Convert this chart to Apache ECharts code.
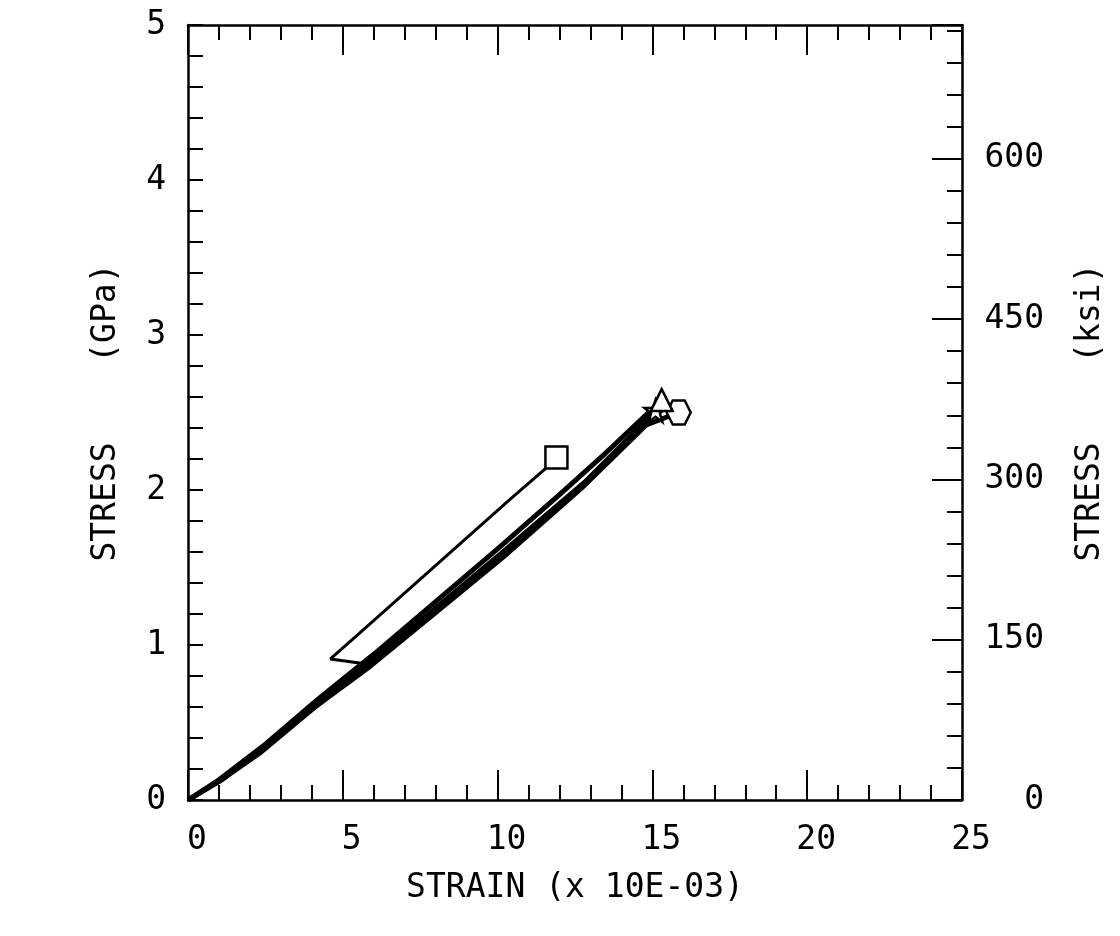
<!DOCTYPE html>
<html>
<head>
    <meta charset="UTF-8">
    <title>Stress - strain</title>
    <script src="https://cdn.jsdelivr.net/npm/echarts@6/dist/echarts.min.js"></script>
    <style>
        html, body { margin: 0; padding: 0; background: #fff; }
        #chart { width: 1120px; height: 936px; }
    </style>
</head>
<body>
<div id="chart"></div>
<script type="text/javascript">
    // strain (x 10E-03), stress (GPa)
    var curveTriangle = [[0, 0], [1, 0.13], [2.5, 0.36], [4.2, 0.65], [6, 0.94], [8, 1.28], [10, 1.62], [12, 1.97], [13.5, 2.24], [15.3, 2.58]];
    var curveStar = [[0, 0], [1.1, 0.13], [2.4, 0.33], [4.3, 0.63], [5.9, 0.89], [8, 1.24], [10.1, 1.59], [12.8, 2.05], [15.1, 2.51]];
    var curveHex = [[0, 0], [1, 0.12], [2.3, 0.3], [4.1, 0.6], [5.8, 0.85], [8, 1.21], [10.2, 1.57], [12.7, 2.01], [14.8, 2.42], [15.85, 2.5]];
    var curveSquare = [[0, 0], [1, 0.13], [2.4, 0.33], [4.2, 0.64], [5.65, 0.88], [4.6, 0.91], [5.56, 1.08], [10.4, 1.94], [11.5, 2.13], [11.9, 2.21]];

    var xTicks = [0, 5, 10, 15, 20, 25];
    var gpaTicks = [0, 1, 2, 3, 4, 5];
    var ksiTicks = [0, 150, 300, 450, 600];
    var GPA_PER_KSI = 0.0068948;

    var hexPath = 'path://M5,0 L15,0 L20,9 L15,18 L5,18 L0,9 Z';
    var starPath = 'path://M10,0 L12.4,7 L20,7 L14,11.5 L16.2,19 L10,14.5 L3.8,19 L6,11.5 L0,7 L7.6,7 Z';

    var font = 'DejaVu Sans Mono';

    function curve(points, width, symbol, size) {
        var data = points.map(function (p, i) {
            if (i < points.length - 1) return p;
            return {
                value: p,
                symbol: symbol,
                symbolSize: size,
                itemStyle: { color: '#fff', borderColor: '#000', borderWidth: 2.5 }
            };
        });
        return {
            type: 'line',
            data: data,
            symbol: 'none',
            showSymbol: true,
            lineStyle: { color: '#000', width: width },
            itemStyle: { color: '#000' },
            z: 3
        };
    }

    function axisStyle(tickLen, minorLen) {
        return {
            axisLine: { onZero: false, lineStyle: { color: '#000', width: 2.5 } },
            axisTick: { inside: true, length: tickLen, lineStyle: { color: '#000', width: 2 } },
            minorTick: { show: true, splitNumber: 5, length: minorLen, lineStyle: { color: '#000', width: 2 } },
            splitLine: { show: false }
        };
    }

    var chart = echarts.init(document.getElementById('chart'));

    var gpaMax = gpaTicks[gpaTicks.length - 1];
    var nameStyle = { fontFamily: font, fontSize: 33, color: '#000' };

    var option = {
        animation: false,
        backgroundColor: '#fff',
        grid: { left: 188, right: 158, top: 25, bottom: 136, containLabel: false, outerBoundsMode: 'none' },
        xAxis: [
            Object.assign({
                type: 'value',
                position: 'bottom',
                min: xTicks[0],
                max: xTicks[xTicks.length - 1],
                interval: 5,
                name: 'STRAIN (x 10E-03)',
                nameLocation: 'middle',
                nameGap: 72,
                nameMoveOverlap: false,
                nameTextStyle: nameStyle,
                axisLabel: { margin: 24, padding: [0, 0, 0, 18], fontFamily: font, fontSize: 33, color: '#000' }
            }, axisStyle(30, 15)),
            Object.assign({
                type: 'value',
                position: 'top',
                min: xTicks[0],
                max: xTicks[xTicks.length - 1],
                interval: 5,
                axisLabel: { show: false }
            }, axisStyle(30, 15))
        ],
        yAxis: [
            Object.assign({
                type: 'value',
                position: 'left',
                min: 0,
                max: gpaMax,
                interval: 1,
                name: 'STRESS    (GPa)',
                nameLocation: 'middle',
                nameRotate: 90,
                nameGap: 65,
                nameMoveOverlap: false,
                nameTextStyle: nameStyle,
                axisLabel: { margin: 22, fontFamily: font, fontSize: 33, color: '#000' }
            }, axisStyle(15, 15)),
            Object.assign({
                type: 'value',
                position: 'right',
                min: 0,
                max: gpaMax / GPA_PER_KSI,
                interval: 150,
                name: 'STRESS    (ksi)',
                nameLocation: 'middle',
                nameRotate: 90,
                nameGap: 112,
                nameMoveOverlap: false,
                nameTextStyle: nameStyle,
                axisLabel: {
                    margin: 82,
                    align: 'right',
                    showMaxLabel: false,
                    fontFamily: font,
                    fontSize: 33,
                    color: '#000',
                    formatter: function (v) {
                        return ksiTicks.indexOf(Math.round(v)) >= 0 ? String(Math.round(v)) : '';
                    }
                }
            }, axisStyle(30, 15))
        ],
        series: [
            curve(curveSquare, 3, 'rect', 22),
            curve(curveStar, 4.5, starPath, 22),
            curve(curveHex, 5, hexPath, 24),
            curve(curveTriangle, 5, 'triangle', 22)
        ]
    };

    chart.setOption(option);
</script>
</body>
</html>
